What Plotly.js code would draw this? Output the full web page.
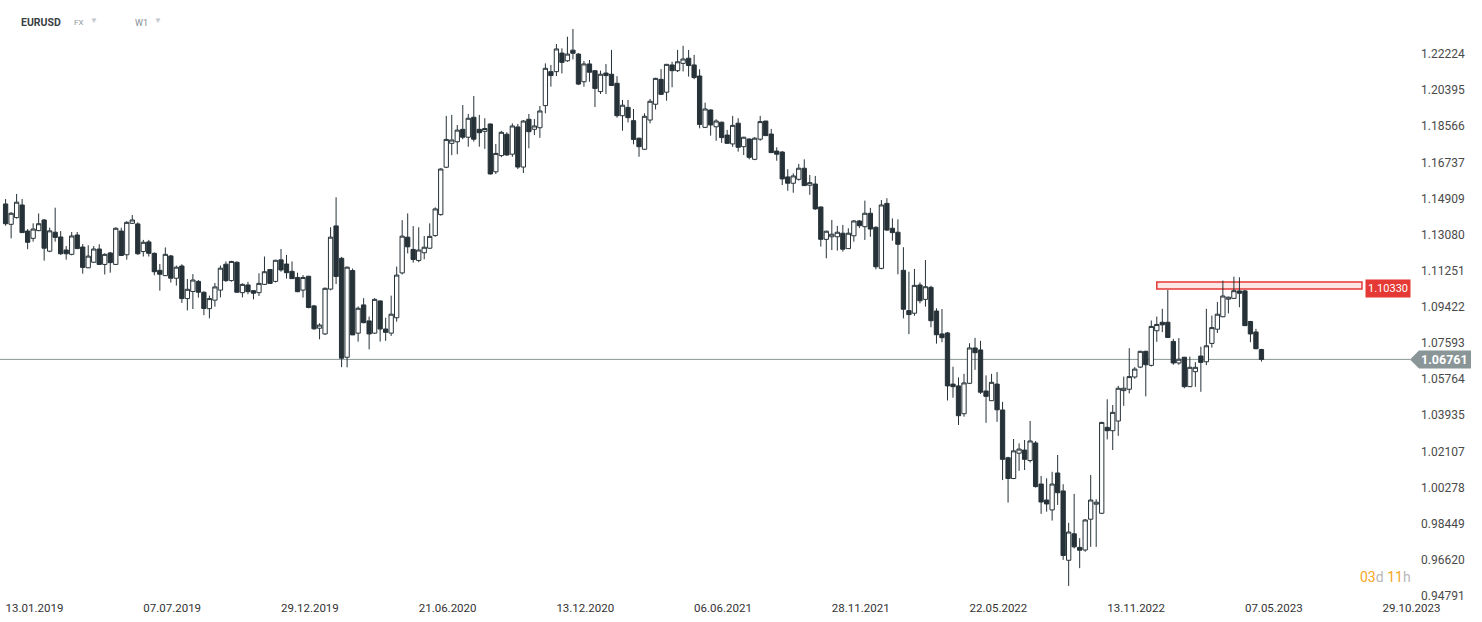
<!DOCTYPE html>
<html>
<head>
<meta charset="utf-8">
<script src="https://cdn.plot.ly/plotly-3.0.1.min.js"></script>
<style>
  html, body { margin: 0; padding: 0; background: #ffffff; }
  #chart { width: 1482px; height: 622px; }
</style>
</head>
<body>
<div id="chart"></div>
<script>
// ---- data (weekly EURUSD candles) ----
const weeks = [
'2019-01-13','2019-01-20','2019-01-27','2019-02-03','2019-02-10','2019-02-17','2019-02-24','2019-03-03','2019-03-10','2019-03-17',
'2019-03-24','2019-03-31','2019-04-07','2019-04-14','2019-04-21','2019-04-28','2019-05-05','2019-05-12','2019-05-19','2019-05-26',
'2019-06-02','2019-06-09','2019-06-16','2019-06-23','2019-06-30','2019-07-07','2019-07-14','2019-07-21','2019-07-28','2019-08-04',
'2019-08-11','2019-08-18','2019-08-25','2019-09-01','2019-09-08','2019-09-15','2019-09-22','2019-09-29','2019-10-06','2019-10-13',
'2019-10-20','2019-10-27','2019-11-03','2019-11-10','2019-11-17','2019-11-24','2019-12-01','2019-12-08','2019-12-15','2019-12-22',
'2019-12-29','2020-01-05','2020-01-12','2020-01-19','2020-01-26','2020-02-02','2020-02-09','2020-02-16','2020-02-23','2020-03-01',
'2020-03-08','2020-03-15','2020-03-22','2020-03-29','2020-04-05','2020-04-12','2020-04-19','2020-04-26','2020-05-03','2020-05-10',
'2020-05-17','2020-05-24','2020-05-31','2020-06-07','2020-06-14','2020-06-21','2020-06-28','2020-07-05','2020-07-12','2020-07-19',
'2020-07-26','2020-08-02','2020-08-09','2020-08-16','2020-08-23','2020-08-30','2020-09-06','2020-09-13','2020-09-20','2020-09-27',
'2020-10-04','2020-10-11','2020-10-18','2020-10-25','2020-11-01','2020-11-08','2020-11-15','2020-11-22','2020-11-29','2020-12-06',
'2020-12-13','2020-12-20','2020-12-27','2021-01-03','2021-01-10','2021-01-17','2021-01-24','2021-01-31','2021-02-07','2021-02-14',
'2021-02-21','2021-02-28','2021-03-07','2021-03-14','2021-03-21','2021-03-28','2021-04-04','2021-04-11','2021-04-18','2021-04-25',
'2021-05-02','2021-05-09','2021-05-16','2021-05-23','2021-05-30','2021-06-06','2021-06-13','2021-06-20','2021-06-27','2021-07-04',
'2021-07-11','2021-07-18','2021-07-25','2021-08-01','2021-08-08','2021-08-15','2021-08-22','2021-08-29','2021-09-05','2021-09-12',
'2021-09-19','2021-09-26','2021-10-03','2021-10-10','2021-10-17','2021-10-24','2021-10-31','2021-11-07','2021-11-14','2021-11-21',
'2021-11-28','2021-12-05','2021-12-12','2021-12-19','2021-12-26','2022-01-02','2022-01-09','2022-01-16','2022-01-23','2022-01-30',
'2022-02-06','2022-02-13','2022-02-20','2022-02-27','2022-03-06','2022-03-13','2022-03-20','2022-03-27','2022-04-03','2022-04-10',
'2022-04-17','2022-04-24','2022-05-01','2022-05-08','2022-05-15','2022-05-22','2022-05-29','2022-06-05','2022-06-12','2022-06-19',
'2022-06-26','2022-07-03','2022-07-10','2022-07-17','2022-07-24','2022-07-31','2022-08-07','2022-08-14','2022-08-21','2022-08-28',
'2022-09-04','2022-09-11','2022-09-18','2022-09-25','2022-10-02','2022-10-09','2022-10-16','2022-10-23','2022-10-30','2022-11-06',
'2022-11-13','2022-11-20','2022-11-27','2022-12-04','2022-12-11','2022-12-18','2022-12-25','2023-01-01','2023-01-08','2023-01-15',
'2023-01-22','2023-01-29','2023-02-05','2023-02-12','2023-02-19','2023-02-26','2023-03-05','2023-03-12','2023-03-19','2023-03-26',
'2023-04-02','2023-04-09','2023-04-16','2023-04-23','2023-04-30','2023-05-07','2023-05-14','2023-05-21','2023-05-28'
];

const openPrices = [
1.1463,1.1360,1.1394,1.1458,1.1326,1.1289,1.1328,1.1382,1.1224,1.1320,
1.1296,1.1230,1.1208,1.1306,1.1245,1.1140,1.1168,1.1235,1.1157,1.1215,
1.1157,1.1326,1.1206,1.1365,1.1362,1.1222,1.1271,1.1213,1.1127,1.1100,
1.1200,1.1087,1.1149,1.0984,1.1020,1.1071,1.1016,1.0933,1.0976,1.1027,
1.1158,1.1075,1.1168,1.1014,1.1053,1.1024,1.1014,1.1056,1.1131,1.1071,
1.1180,1.1159,1.1122,1.1091,1.1027,1.1097,1.0947,1.0834,1.0805,1.1032,
1.1352,1.1188,1.0687,1.1126,1.0809,1.0952,1.0871,1.0809,1.0972,1.0830,
1.0809,1.0887,1.1114,1.1295,1.1233,1.1177,1.1216,1.1239,1.1303,1.1409,
1.1649,1.1770,1.1778,1.1841,1.1801,1.1902,1.1841,1.1831,1.1868,1.1626,
1.1708,1.1816,1.1715,1.1853,1.1650,1.1892,1.1841,1.1849,1.1961,1.2133,
1.2133,1.2227,1.2188,1.2242,1.2222,1.2082,1.2172,1.2138,1.2032,1.2126,
1.2120,1.2074,1.1910,1.1952,1.1885,1.1796,1.1740,1.1888,1.1968,1.2094,
1.2029,1.2167,1.2138,1.2175,1.2201,1.2167,1.2111,1.1851,1.1939,1.1854,
1.1877,1.1812,1.1767,1.1872,1.1753,1.1792,1.1689,1.1791,1.1883,1.1817,
1.1731,1.1726,1.1600,1.1568,1.1588,1.1644,1.1558,1.1564,1.1448,1.1284,
1.1297,1.1297,1.1315,1.1237,1.1302,1.1377,1.1348,1.1416,1.1345,1.1137,
1.1466,1.1340,1.1320,1.1127,1.0923,1.0910,1.1053,1.0980,1.1041,1.0921,
1.0805,1.0810,1.0551,1.0542,1.0401,1.0555,1.0734,1.0724,1.0516,1.0467,
1.0551,1.0420,1.0178,1.0073,1.0201,1.0217,1.0164,1.0253,1.0045,0.9964,
0.9914,1.0101,1.0010,0.9659,0.9793,0.9724,0.9711,0.9867,0.9943,0.9897,
1.0332,1.0315,1.0364,1.0518,1.0525,1.0587,1.0637,1.0717,1.0646,1.0821,
1.0864,1.0864,1.0767,1.0658,1.0687,1.0538,1.0614,1.0693,1.0664,1.0757,
1.0829,1.0892,1.0981,1.0985,1.1023,1.1023,1.0868,1.0815,1.0726
];

const highPrices = [
1.1488,1.1422,1.1514,1.1488,1.1336,1.1365,1.1415,1.1387,1.1343,1.1444,
1.1326,1.1250,1.1321,1.1321,1.1260,1.1254,1.1250,1.1259,1.1213,1.1220,
1.1345,1.1343,1.1376,1.1407,1.1370,1.1281,1.1281,1.1218,1.1159,1.1243,
1.1205,1.1151,1.1158,1.1083,1.1108,1.1078,1.1021,1.0999,1.1063,1.1151,
1.1172,1.1175,1.1172,1.1061,1.1069,1.1027,1.1112,1.1197,1.1134,1.1180,
1.1235,1.1205,1.1172,1.1115,1.1103,1.1099,1.0952,1.0859,1.1040,1.1345,
1.1497,1.1195,1.1146,1.1136,1.0944,1.0986,1.0893,1.0986,1.0975,1.0887,
1.0999,1.1146,1.1381,1.1415,1.1351,1.1345,1.1301,1.1365,1.1446,1.1644,
1.1909,1.1914,1.1863,1.1964,1.1919,1.2010,1.1914,1.1897,1.1870,1.1767,
1.1833,1.1826,1.1871,1.1868,1.1888,1.1919,1.1893,1.1959,1.2175,1.2167,
1.2273,1.2251,1.2310,1.2349,1.2227,1.2187,1.2192,1.2138,1.2138,1.2172,
1.2243,1.2110,1.1990,1.1990,1.1944,1.1799,1.1922,1.1995,1.2102,1.2146,
1.2172,1.2183,1.2243,1.2264,1.2243,1.2218,1.2145,1.1976,1.1942,1.1892,
1.1880,1.1838,1.1909,1.1897,1.1803,1.1795,1.1802,1.1909,1.1883,1.1843,
1.1750,1.1731,1.1639,1.1618,1.1666,1.1689,1.1610,1.1605,1.1449,1.1328,
1.1382,1.1352,1.1357,1.1340,1.1382,1.1382,1.1480,1.1443,1.1350,1.1483,
1.1492,1.1390,1.1385,1.1244,1.1120,1.1134,1.1066,1.1179,1.1049,1.0935,
1.0931,1.0815,1.0639,1.0585,1.0603,1.0758,1.0785,1.0770,1.0595,1.0603,
1.0612,1.0461,1.0183,1.0273,1.0251,1.0268,1.0364,1.0263,1.0086,1.0074,
1.0107,1.0192,1.0044,0.9849,0.9995,0.9771,0.9868,1.0091,0.9968,1.0360,
1.0474,1.0445,1.0542,1.0589,1.0733,1.0637,1.0720,1.0720,1.0873,1.0893,
1.0932,1.1028,1.0780,1.0784,1.0689,1.0690,1.0662,1.0740,1.0932,1.0898,
1.0967,1.1075,1.0994,1.1095,1.1092,1.1028,1.0871,1.0831,1.0730
];

const lowPrices = [
1.1353,1.1289,1.1389,1.1316,1.1234,1.1272,1.1325,1.1176,1.1219,1.1272,
1.1205,1.1181,1.1203,1.1235,1.1110,1.1138,1.1164,1.1154,1.1106,1.1115,
1.1154,1.1200,1.1181,1.1362,1.1205,1.1197,1.1197,1.1102,1.1024,1.1098,
1.1065,1.1050,1.0962,1.0924,1.0931,1.0989,1.0900,1.0884,1.0943,1.0990,
1.1068,1.1070,1.1016,1.0990,1.1006,1.0980,1.0997,1.1053,1.1058,1.1066,
1.1120,1.1085,1.1083,1.1016,1.0989,1.0935,1.0826,1.0778,1.0800,1.1026,
1.1058,1.0637,1.0636,1.0800,1.0766,1.0859,1.0727,1.0805,1.0766,1.0770,
1.0795,1.0867,1.1106,1.1213,1.1166,1.1168,1.1183,1.1237,1.1297,1.1404,
1.1645,1.1710,1.1715,1.1791,1.1753,1.1779,1.1753,1.1742,1.1612,1.1615,
1.1700,1.1708,1.1702,1.1640,1.1620,1.1745,1.1812,1.1798,1.1922,1.2057,
1.2111,1.2124,1.2183,1.2195,1.2065,1.2057,1.2082,1.1954,1.2020,1.2020,
1.2061,1.1900,1.1834,1.1876,1.1765,1.1702,1.1736,1.1871,1.1942,1.2015,
1.1986,1.2054,1.2131,1.2134,1.2108,1.2095,1.1846,1.1848,1.1809,1.1783,
1.1773,1.1767,1.1752,1.1728,1.1711,1.1689,1.1685,1.1783,1.1807,1.1721,
1.1682,1.1559,1.1530,1.1520,1.1581,1.1554,1.1509,1.1433,1.1247,1.1188,
1.1230,1.1227,1.1222,1.1235,1.1272,1.1341,1.1281,1.1297,1.1132,1.1132,
1.1326,1.1277,1.1107,1.0884,1.0804,1.0897,1.0960,1.0943,1.0839,1.0756,
1.0763,1.0468,1.0482,1.0344,1.0386,1.0551,1.0623,1.0501,1.0355,1.0466,
1.0360,1.0065,0.9951,1.0070,1.0112,1.0116,1.0154,1.0027,0.9894,0.9905,
0.9860,0.9939,0.9661,0.9529,0.9719,0.9619,0.9702,0.9727,0.9727,0.9893,
1.0271,1.0217,1.0289,1.0441,1.0504,1.0578,1.0632,1.0489,1.0640,1.0765,
1.0814,1.0785,1.0649,1.0649,1.0530,1.0536,1.0537,1.0512,1.0647,1.0736,
1.0810,1.0890,1.0909,1.0983,1.0940,1.0845,1.0763,1.0728,1.0665
];

const closePrices = [
1.1363,1.1416,1.1472,1.1318,1.1269,1.1336,1.1363,1.1239,1.1327,1.1294,
1.1211,1.1211,1.1301,1.1237,1.1142,1.1199,1.1235,1.1157,1.1208,1.1166,
1.1340,1.1202,1.1370,1.1382,1.1211,1.1269,1.1213,1.1120,1.1107,1.1208,
1.1087,1.1143,1.0984,1.1031,1.1078,1.1016,1.0934,1.0984,1.1043,1.1138,
1.1075,1.1172,1.1016,1.1056,1.1019,1.1011,1.1061,1.1120,1.1061,1.1178,
1.1129,1.1115,1.1085,1.1019,1.1091,1.0939,1.0831,1.0850,1.1036,1.1295,
1.1096,1.0682,1.1143,1.0800,1.0935,1.0862,1.0805,1.0980,1.0830,1.0813,
1.0905,1.1103,1.1300,1.1246,1.1182,1.1230,1.1244,1.1299,1.1438,1.1640,
1.1790,1.1787,1.1837,1.1801,1.1897,1.1791,1.1824,1.1845,1.1615,1.1719,
1.1826,1.1711,1.1858,1.1650,1.1883,1.1829,1.1858,1.1934,1.2150,1.2113,
1.2248,1.2180,1.2222,1.2226,1.2070,1.2172,1.2130,1.2048,1.2120,1.2113,
1.2063,1.1910,1.1963,1.1900,1.1790,1.1753,1.1907,1.1983,1.2099,1.2018,
1.2170,1.2138,1.2183,1.2197,1.2164,1.2103,1.1866,1.1944,1.1863,1.1883,
1.1799,1.1770,1.1861,1.1750,1.1801,1.1699,1.1796,1.1880,1.1809,1.1723,
1.1715,1.1590,1.1568,1.1605,1.1644,1.1556,1.1571,1.1438,1.1284,1.1325,
1.1310,1.1320,1.1234,1.1315,1.1377,1.1353,1.1416,1.1336,1.1145,1.1458,
1.1331,1.1318,1.1259,1.0930,1.0903,1.1051,1.0973,1.1044,1.0872,1.0801,
1.0786,1.0542,1.0538,1.0391,1.0557,1.0734,1.0710,1.0510,1.0489,1.0560,
1.0421,1.0170,1.0073,1.0213,1.0222,1.0170,1.0263,1.0032,0.9954,0.9944,
1.0045,1.0001,0.9683,0.9802,0.9727,0.9710,0.9863,0.9964,0.9953,1.0357,
1.0315,1.0408,1.0530,1.0530,1.0589,1.0627,1.0717,1.0649,1.0843,1.0853,
1.0851,1.0787,1.0658,1.0677,1.0538,1.0636,1.0636,1.0661,1.0745,1.0837,
1.0905,1.0997,1.0991,1.1024,1.1011,1.0847,1.0805,1.0730,1.06761
];

// axis ticks
const priceTicks = [1.22224,1.20395,1.18566,1.16737,1.14909,1.13080,1.11251,1.09422,1.07593,1.05764,1.03935,1.02107,1.00278,0.98449,0.96620,0.94791];
const priceTickLabels = ['1.22224','1.20395','1.18566','1.16737','1.14909','1.13080','1.11251','1.09422','1.07593','1.05764','1.03935','1.02107','1.00278','0.98449','0.96620','0.94791'];
const dateTicks = ['2019-01-13','2019-07-07','2019-12-29','2020-06-21','2020-12-13','2021-06-06','2021-11-28','2022-05-22','2022-11-13','2023-05-07','2023-10-29'];
const dateTickLabels = ['13.01.2019','07.07.2019','29.12.2019','21.06.2020','13.12.2020','06.06.2021','28.11.2021','22.05.2022','13.11.2022','07.05.2023','29.10.2023'];

// marked resistance zone and its label
const zoneLow = 1.10330;
const zoneHigh = 1.1068;
const zoneStart = '2023-01-15';
const zoneEnd = '2023-10-02 18:00';
const zoneLabel = '1.10330';
const currentLabel = '1.06761';
const timerText = ['03', 'd', '11', 'h'];

// ---- layout helpers (pixels) ----
const W = 1482, H = 622;
const M = { l: 0, r: 72, t: 0, b: 26 };
const PW = W - M.l - M.r, PH = H - M.t - M.b;
const WEEK = 7 * 864e5;
const t0 = Date.parse('2019-01-13T00:00:00Z');
const xRange = [t0 - 1.017 * WEEK, t0 + 254.97 * WEEK];
const yRange = [0.94781, 1.24958];
const px = v => v / PW;          // pixel -> paper x
const py = v => 1 - v / PH;      // pixel -> paper y

const dark = '#263238';
const lastClose = closePrices[closePrices.length - 1];

const trace = {
  type: 'candlestick',
  x: weeks,
  open: openPrices, high: highPrices, low: lowPrices, close: closePrices,
  increasing: { line: { color: dark, width: 1 }, fillcolor: '#ffffff' },
  decreasing: { line: { color: dark, width: 1 }, fillcolor: dark },
  whiskerwidth: 0,
  hoverinfo: 'none',
  showlegend: false
};

const layout = {
  width: W, height: H,
  margin: M,
  paper_bgcolor: '#ffffff',
  plot_bgcolor: '#ffffff',
  font: { family: 'Roboto, "Open Sans", sans-serif', color: '#444' },
  boxgap: 0.22, boxgroupgap: 0,
  showlegend: false,
  xaxis: {
    type: 'date',
    range: xRange,
    rangeslider: { visible: false },
    showgrid: false, zeroline: false, showline: false,
    ticks: '',
    tickmode: 'array', tickvals: dateTicks, ticktext: dateTickLabels,
    ticklabelposition: 'outside right',
    ticklabelstandoff: 3,
    tickfont: { size: 11.5, color: '#333' },
    fixedrange: true
  },
  yaxis: {
    side: 'right',
    range: yRange,
    showgrid: false, zeroline: false, showline: false,
    ticks: '',
    tickmode: 'array', tickvals: priceTicks, ticktext: priceTickLabels,
    tickfont: { size: 12, color: '#4a4a4a' },
    ticklabelstandoff: 10,
    fixedrange: true
  },
  shapes: [
    // current price line
    { type: 'line', xref: 'paper', x0: 0, x1: 1, yref: 'y', y0: lastClose, y1: lastClose,
      line: { color: '#8a9596', width: 1 }, layer: 'below' },
    // resistance zone
    { type: 'rect', xref: 'x', x0: zoneStart, x1: zoneEnd, yref: 'y', y0: zoneLow, y1: zoneHigh,
      fillcolor: '#fde6e6', line: { color: '#e53935', width: 1.5 }, layer: 'below' },
    // grey arrow tag for current price
    { type: 'path', xref: 'paper', xsizemode: 'pixel', xanchor: 1,
      yref: 'y', ysizemode: 'pixel', yanchor: lastClose,
      path: 'M0,0 L9,9 L61,9 L61,-9 L9,-9 Z',
      fillcolor: '#8a9597', line: { width: 0 }, layer: 'above' }
  ],
  annotations: [
    { xref: 'paper', yref: 'y', x: px(1419), y: lastClose, xanchor: 'left', yanchor: 'middle',
      text: '<b>' + currentLabel + '</b>', showarrow: false,
      font: { size: 12.5, color: '#ffffff', family: 'Roboto, sans-serif' } },
    { xref: 'paper', yref: 'y', x: px(1365), y: zoneLow, xanchor: 'left', yanchor: 'middle',
      text: zoneLabel, showarrow: false, bgcolor: '#e53935', borderpad: 2,
      font: { size: 11, color: '#ffffff', family: 'Roboto, sans-serif' } },
    { xref: 'paper', yref: 'paper', x: px(1358), y: py(577), xanchor: 'left', yanchor: 'middle',
      text: '<span style="color:#f5a623">' + timerText[0] + '</span><span style="color:#b8b8b8">' + timerText[1] +
            '</span> <span style="color:#f5a623">' + timerText[2] + '</span><span style="color:#b8b8b8">' + timerText[3] + '</span>',
      showarrow: false, font: { size: 14, family: 'Roboto, sans-serif' } },
    { xref: 'paper', yref: 'paper', x: px(19), y: py(22), xanchor: 'left', yanchor: 'middle',
      text: '<b>EURUSD</b>', showarrow: false, font: { size: 10.5, color: '#3a3f44' } },
    { xref: 'paper', yref: 'paper', x: px(72), y: py(22.5), xanchor: 'left', yanchor: 'middle',
      text: 'FX', showarrow: false, font: { size: 8, color: '#8e98a3' } },
    { xref: 'paper', yref: 'paper', x: px(88), y: py(20.5), xanchor: 'left', yanchor: 'middle',
      text: '▼', showarrow: false, font: { size: 8, color: '#c3c8cd' } },
    { xref: 'paper', yref: 'paper', x: px(133), y: py(22.5), xanchor: 'left', yanchor: 'middle',
      text: 'W1', showarrow: false, font: { size: 9, color: '#858d96' } },
    { xref: 'paper', yref: 'paper', x: px(152), y: py(20.5), xanchor: 'left', yanchor: 'middle',
      text: '▼', showarrow: false, font: { size: 8, color: '#c3c8cd' } }
  ]
};

Plotly.newPlot('chart', [trace], layout, { staticPlot: true, displayModeBar: false });
</script>
</body>
</html>
